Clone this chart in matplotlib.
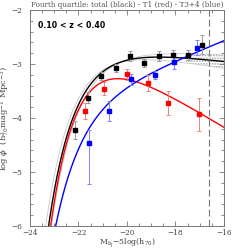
import numpy as np
import matplotlib
matplotlib.use("Agg")
import matplotlib.pyplot as plt

# Schechter fit parameters (M*, alpha, log phi*)
fit_total = (-21.0, -0.88, -2.672)
fit_t1 = (-20.8, -0.32, -2.825)
fit_t34 = (-21.2, -1.46, -3.484)
band_lo = (-20.9, -0.94, -2.672)
band_hi = (-21.1, -0.82, -2.672)

# data points
m_tot = [-22.14, -21.59, -21.08, -20.45, -19.88, -19.30, -18.68, -18.12, -17.50, -16.92]
phi_tot = [-4.22, -3.62, -3.22, -3.07, -2.85, -2.98, -2.85, -2.83, -2.83, -2.64]
err_tot = [0.17, 0.10, 0.08, 0.07, 0.10, 0.08, 0.10, 0.10, 0.10, 0.17]

m_t1 = [-21.73, -20.94, -20.01, -19.15, -18.30, -17.03]
phi_t1 = [-3.87, -3.46, -3.19, -3.35, -3.72, -3.93]
err_t1 = [0.15, 0.12, 0.10, 0.14, 0.22, 0.31]

m_t34 = [-21.57, -20.73, -19.85, -18.85, -18.06, -17.13]
phi_t34 = [-4.47, -3.87, -3.28, -3.20, -2.96, -2.70]
err_t34_lo = [0.76, 0.18, 0.10, 0.08, 0.14, 0.14]
err_t34_hi = [0.25, 0.18, 0.10, 0.08, 0.14, 0.14]

m_limit = -16.6


def schechter(m, p):
    ms, a, lp = p
    x = 0.4 * (ms - m)
    return np.log10(0.4 * np.log(10)) + lp + (a + 1) * x - 10**x / np.log(10)


plt.rcParams["font.family"] = "DejaVu Serif"
plt.rcParams["mathtext.fontset"] = "dejavuserif"
plt.rcParams["hatch.linewidth"] = 0.8
plt.rcParams["hatch.color"] = "#a8a8a8"
fig = plt.figure(figsize=(2.49, 2.49), dpi=100)
ax = fig.add_axes([0.1205, 0.0924, 0.779, 0.867])

mm = np.linspace(-24, -16, 400)
lo = schechter(mm, band_lo)
hi = schechter(mm, band_hi)
ax.plot(mm, lo, color="#c8c8c8", lw=0.6)
ax.plot(mm, hi, color="#c8c8c8", lw=0.6)
sel = mm > -17.6
ax.fill_between(mm[sel], np.minimum(lo, hi)[sel], np.maximum(lo, hi)[sel],
                facecolor="none", edgecolor="#a8a8a8", hatch="......", lw=0)

ax.plot(mm, schechter(mm, fit_total), color="black", lw=1.0)
ax.plot(mm, schechter(mm, fit_t1), color="red", lw=1.0)
ax.plot(mm, schechter(mm, fit_t34), color="blue", lw=1.0)

ax.errorbar(m_tot, phi_tot, yerr=err_tot, fmt="s", color="black", ms=3.0,
            ecolor="#999999", elinewidth=0.7, capsize=1.5, capthick=0.7)
ax.errorbar(m_t1, phi_t1, yerr=err_t1, fmt="s", color="red", ms=3.0,
            ecolor="#f08080", elinewidth=0.7, capsize=1.5, capthick=0.7)
ax.errorbar(m_t34, phi_t34, yerr=[err_t34_lo, err_t34_hi], fmt="s", color="blue", ms=3.0,
            ecolor="#8080ff", elinewidth=0.7, capsize=1.5, capthick=0.7)

ax.axvline(m_limit, color="#777777", lw=0.8, dashes=(6, 3))

ax.set_xlim(-24, -16)
ax.set_ylim(-6, -2)
ax.set_xticks([-24, -22, -20, -18, -16])
ax.set_xticks(np.arange(-24, -15.9, 0.5), minor=True)
ax.set_yticks([-6, -5, -4, -3, -2])
ax.set_yticks(np.arange(-6, -1.9, 0.2), minor=True)
ax.set_xticklabels(["\u221224", "\u221222", "\u221220", "\u221218", "\u221216"])
ax.set_yticklabels(["\u22126", "\u22125", "\u22124", "\u22123", "\u22122"])
ax.tick_params(which="both", direction="in", top=True, right=True,
               colors="#777777", labelcolor="#444444", labelsize=5.3, width=0.6)
ax.tick_params(axis="x", pad=2)
ax.tick_params(axis="y", pad=5.5)
ax.tick_params(which="major", length=3.5)
ax.tick_params(which="minor", length=2)
for s in ax.spines.values():
    s.set_color("#777777")
    s.set_linewidth(0.7)

ax.set_xlabel(r"M$_{\mathrm{b_J}}$$-$5log(h$_{70}$)", fontsize=5.6, color="#444444", va="top")
ax.xaxis.set_label_coords(0.5, -0.053)
ax.set_ylabel(r"log $\phi$  (h$^3_{70}$mag$^{-1}$ Mpc$^{-3}$)", fontsize=6,
              color="#444444", labelpad=0)
ax.set_title("Fourth quartile: total (black) - T1 (red) - T3+4 (blue)",
             fontsize=5.2, color="#555555", pad=2)
ax.text(0.04, 0.95, "0.10 < z < 0.40", transform=ax.transAxes, fontsize=5.6,
        fontweight="bold", va="top", ha="left", family="DejaVu Sans")

fig.savefig("out.png", dpi=100)
